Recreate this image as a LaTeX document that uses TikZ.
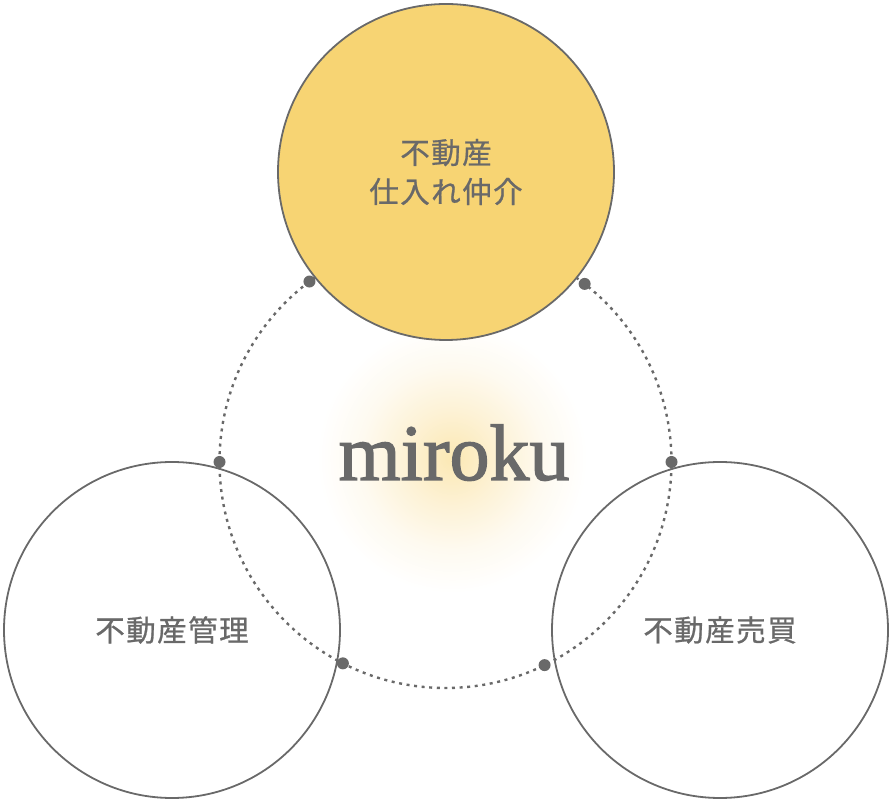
\documentclass[tikz,border=0pt]{standalone}
\usepackage{fontspec}
\usetikzlibrary{positioning}
\newfontfamily\jpfont[LetterSpace=5, FakeBold=0.8]{Noto Sans CJK JP}
\newfontfamily\logofont[FakeBold=1.6]{Liberation Serif}
\definecolor{gold}{RGB}{247, 212, 115}
\definecolor{ink}{RGB}{105, 105, 105}
\definecolor{glow}{RGB}{251, 232, 180}
\definecolor{glowmid}{RGB}{253, 242, 214}
\definecolor{glowlow}{RGB}{254, 250, 240}
\pgfdeclareradialshading{halo}{\pgfpointorigin}{%
  color(0bp)=(glow); color(9bp)=(glowmid); color(17bp)=(glowlow);
  color(25bp)=(white); color(50bp)=(white)}
\tikzset{
    field/.style = {
      circle,
      draw=ink,
      line width=1.8pt,
      minimum size=336pt,
      inner sep=0pt,
      outer sep=0pt,
      text=ink,
      align=center,
      font=\jpfont\fontsize{29.5}{39}\selectfont
    },
    ring/.style = {
      circle,
      draw=ink,
      line width=2.4pt,
      dash pattern=on 3pt off 4.6pt,
      minimum size=452pt,
      inner sep=0pt,
      outer sep=0pt
    },
    dot/.style = {circle, fill=ink, minimum size=12pt, inner sep=0pt},
}

\begin{document}
\begin{tikzpicture}[x=1pt, y=1pt]
      \useasboundingbox (0,0) rectangle (894,803);

      % soft glow behind the logo
      \shade[shading=halo] (452,345) circle (135);

      \node [ring] (ring) at (445.5,341) {};

      \node [field, fill=gold] (shiire) at (446,631) {不動産\\仕入れ仲介};
      \node [field] (kanri) at (172,173) {不動産管理};
      \node [field] (baibai) at (720,173) {不動産売買};

      \foreach \a in {0, 52.5, 127.5, 180, 243.3, 296.9}
        \node [dot] at (ring.\a) {};

      \node [anchor=base, inner sep=0pt, text=ink,
             font=\logofont\fontsize{80}{80}\selectfont] (logo)
            at (454,323) {miroku};
\end{tikzpicture}
\end{document}
